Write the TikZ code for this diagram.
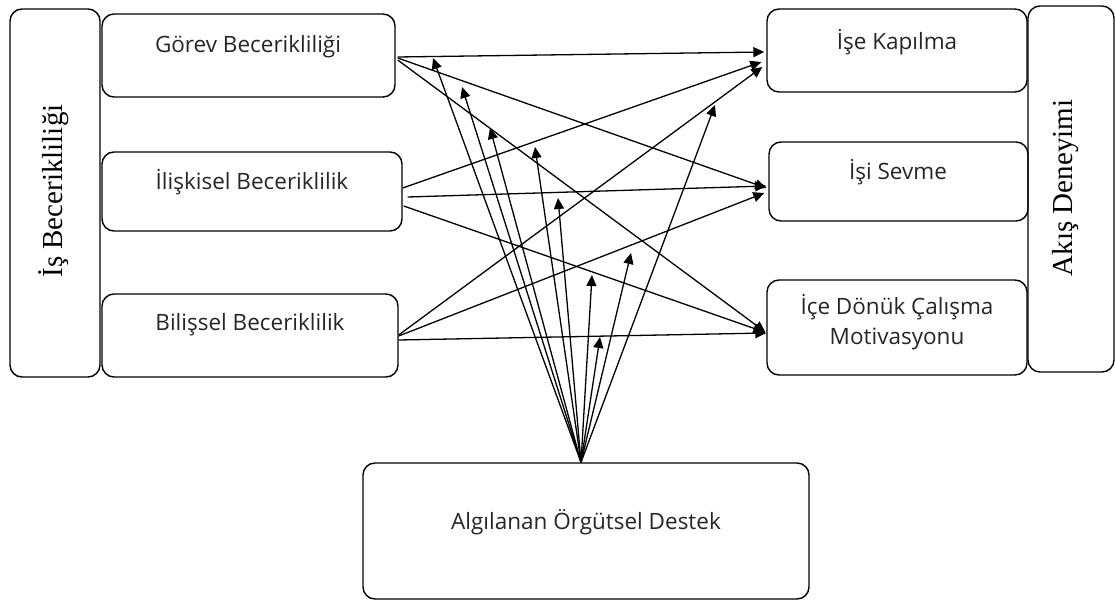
\documentclass[tikz,border=0pt]{standalone}
\usepackage{fontspec}
\setmainfont{Open Sans}
\newfontfamily\vserif{Liberation Serif}
\usetikzlibrary{arrows.meta,calc}
\begin{document}
\begin{tikzpicture}[x=1pt,y=-1pt,
  box/.style={draw, line width=1.4pt, rounded corners=12pt, inner sep=0pt},
  lbl/.style={font=\fontsize{22.5}{30}\selectfont, align=center, inner sep=0pt, text=black!85},
  vlbl/.style={font=\vserif\fontsize{29}{36}\selectfont, rotate=90, inner sep=0pt},
  arr/.style={line width=1.3pt, -{Triangle[length=11pt,width=10pt]}}]
\useasboundingbox (0,0) rectangle (1115,601);
% boxes
\node[box, minimum width=90pt, minimum height=368pt] (L) at (55,193) {};
\node[box, minimum width=293pt, minimum height=83pt] (g) at (248.5,55.5) {};
\node[box, minimum width=300pt, minimum height=79pt] (i) at (252,191.5) {};
\node[box, minimum width=296pt, minimum height=83pt] (b) at (250,335.5) {};
\node[box, minimum width=260pt, minimum height=83pt] (k) at (897,50.5) {};
\node[box, minimum width=259pt, minimum height=79pt] (s) at (898.5,181.5) {};
\node[box, minimum width=260pt, minimum height=95pt] (m) at (897,327.5) {};
\node[box, minimum width=86pt, minimum height=366pt] (R) at (1071,189) {};
\node[box, minimum width=446pt, minimum height=136pt] (a) at (586,531) {};
% texts
\node[vlbl] (Lt) at (54,191) {İş Becerikliliği};
\node[vlbl] (Rt) at (1066,188) {Akış Deneyimi};
\node[lbl] (gt) at (248,47) {Görev Becerikliliği};
\node[lbl] (it) at (252,182) {İlişkisel Beceriklilik};
\node[lbl] (bt) at (250,325) {Bilişsel Beceriklilik};
\node[lbl] (kt) at (897,42) {İşe Kapılma};
\node[lbl] (st) at (898,172) {İşi Sevme};
\node[lbl] (mt) at (897,322) {İçe Dönük Çalışma\\Motivasyonu};
\node[lbl] (at) at (586,522) {Algılanan Örgütsel Destek};
% main arrows
\draw[arr] ($(g.east)+(2,1.5)$) -- ($(k.west)+(-2,1.5)$);
\draw[arr] ($(g.east)+(2,2.5)$) -- ($(s.west)+(-2,6.5)$);
\draw[arr] ($(g.east)+(2,4.5)$) -- ($(m.west)+(-1,4.5)$);
\draw[arr] ($(i.east)+(0,-3.5)$) -- ($(k.west)+(-5,11.5)$);
\draw[arr] ($(i.east)+(5,5.5)$) -- ($(s.west)+(-2,4.5)$);
\draw[arr] ($(i.east)+(1,14.5)$) -- ($(m.west)+(-2,4.5)$);
\draw[arr] ($(b.east)+(0,-0.5)$) -- ($(k.west)+(-4,16.5)$);
\draw[arr] ($(b.east)+(0,0.5)$) -- ($(s.west)+(-4,11.5)$);
\draw[arr] ($(b.east)+(0,4.5)$) -- ($(m.west)+(0,5.5)$);
% moderator arrows
\coordinate (o) at ($(a.north)+(-5,0)$);
\coordinate (t1) at (433,58);
\coordinate (t2) at (462,87);
\coordinate (t3) at (490,128);
\coordinate (t4) at (535,147);
\coordinate (t5) at (558,198);
\coordinate (t6) at (592,275);
\coordinate (t7) at (631,253);
\coordinate (t8) at (600,337);
\coordinate (t9) at (715,105);
\foreach \t in {t1,t2,t3,t4,t5,t6,t7,t8,t9} {\draw[arr] (o) -- (\t);}
\end{tikzpicture}
\end{document}
